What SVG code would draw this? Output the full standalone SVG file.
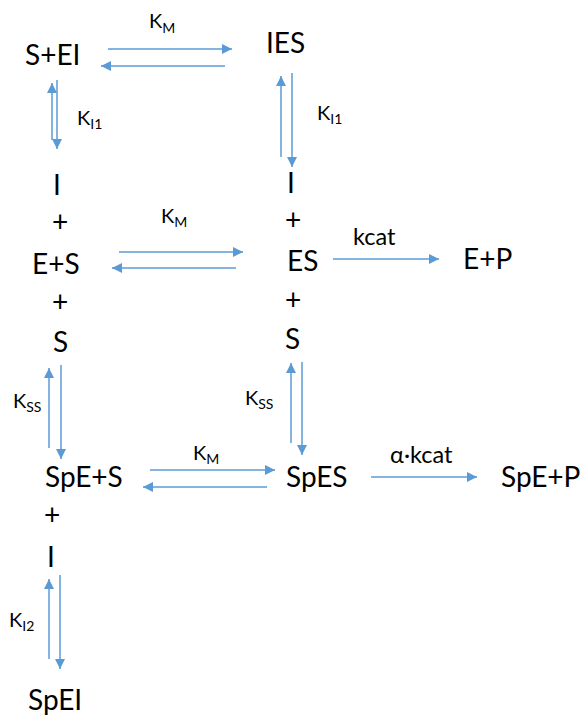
<svg xmlns="http://www.w3.org/2000/svg" width="584" height="716" viewBox="0 0 584 716">
  <style>
    .sp { font-family: Lato, "Open Sans", "Liberation Sans", sans-serif; font-size: 28px; fill: #000; }
    .lb { font-family: Lato, "Open Sans", "Liberation Sans", sans-serif; font-size: 20px; fill: #000; }
    .sub { font-size: 14px; }
    .rate { font-family: Lato, "Open Sans", "Liberation Sans", sans-serif; font-size: 23.5px; fill: #000; }
    .ar { stroke: #5B9BD5; stroke-width: 1.5; fill: none; marker-end: url(#head); }
  </style>
  <defs>
    <marker id="head" viewBox="0 0 10 10" refX="10" refY="5" markerWidth="10" markerHeight="10" markerUnits="userSpaceOnUse" orient="auto">
      <path d="M0,0 L10,5 L0,10 z" fill="#5B9BD5"/>
    </marker>
  </defs>
  <rect width="584" height="716" fill="#fff"/>

  <!-- species -->
  <g id="s-ei"><text class="sp" x="25" y="65">S+EI</text></g>
  <g id="ies"><text class="sp" x="266" y="53">IES</text></g>
  <g id="i-e-s-s">
    <text class="sp" x="53" y="195">I</text>
    <text class="sp" x="52" y="232">+</text>
    <text class="sp" x="32" y="274">E+S</text>
    <text class="sp" x="52" y="312">+</text>
    <text class="sp" x="53" y="352">S</text>
  </g>
  <g id="i-es-s">
    <text class="sp" x="287" y="193">I</text>
    <text class="sp" x="285" y="230">+</text>
    <text class="sp" x="287" y="271">ES</text>
    <text class="sp" x="285" y="310">+</text>
    <text class="sp" x="285" y="349">S</text>
  </g>
  <g id="e-p"><text class="sp" x="463" y="269">E+P</text></g>
  <g id="spe-s-i">
    <text class="sp" x="45" y="487">SpE+S</text>
    <text class="sp" x="44" y="525">+</text>
    <text class="sp" x="47" y="567">I</text>
  </g>
  <g id="spes"><text class="sp" x="286" y="487">SpES</text></g>
  <g id="spe-p"><text class="sp" x="501" y="487">SpE+P</text></g>
  <g id="spei"><text class="sp" x="28" y="710">SpEI</text></g>

  <!-- rate constants -->
  <g id="labels">
    <text class="lb" x="149" y="28">K<tspan class="sub" dy="5">M</tspan></text>
    <text class="lb" x="77" y="125">K<tspan class="sub" dy="4">I1</tspan></text>
    <text class="lb" x="317" y="120">K<tspan class="sub" dy="4">I1</tspan></text>
    <text class="lb" x="161" y="223">K<tspan class="sub" dy="4">M</tspan></text>
    <text class="rate" x="353" y="245">kcat</text>
    <text class="lb" x="13" y="408">K<tspan class="sub" dy="4">SS</tspan></text>
    <text class="lb" x="245" y="405">K<tspan class="sub" dy="4">SS</tspan></text>
    <text class="lb" x="193" y="460">K<tspan class="sub" dy="4">M</tspan></text>
    <text class="rate" x="390" y="463">α·kcat</text>
    <text class="lb" x="9" y="627">K<tspan class="sub" dy="4">I2</tspan></text>
  </g>

  <!-- connectors -->
  <g id="connectors">
    <path class="ar" d="M108,49 H232"/>
    <path class="ar" d="M225,66 H101"/>
    <path class="ar" d="M52,140 V83"/>
    <path class="ar" d="M57,80 V149"/>
    <path class="ar" d="M281,157 V76"/>
    <path class="ar" d="M292,73 V167"/>
    <path class="ar" d="M119,252 H243"/>
    <path class="ar" d="M236,268 H112"/>
    <path class="ar" d="M333,259 H439"/>
    <path class="ar" d="M49,448 V368"/>
    <path class="ar" d="M61,365 V459"/>
    <path class="ar" d="M291,443 V363"/>
    <path class="ar" d="M302,362 V455"/>
    <path class="ar" d="M150,470 H275"/>
    <path class="ar" d="M267,487 H143"/>
    <path class="ar" d="M371,477 H477"/>
    <path class="ar" d="M49,659 V579"/>
    <path class="ar" d="M60,575 V669"/>
  </g>
</svg>
